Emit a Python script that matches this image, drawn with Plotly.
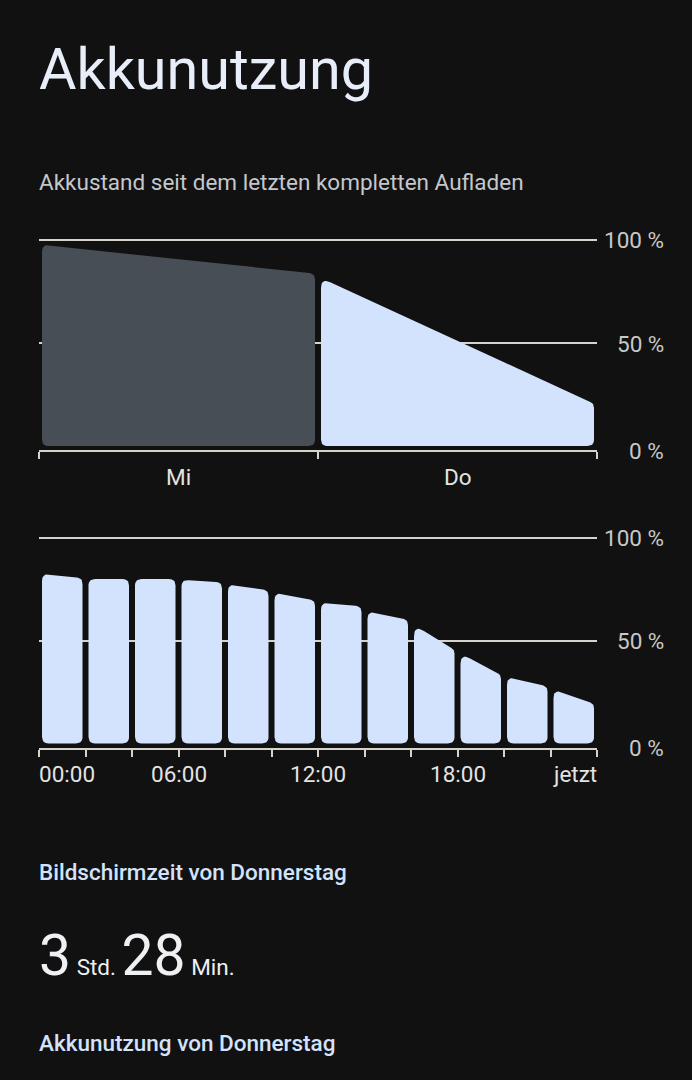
import numpy as np
import plotly.graph_objects as go

W, H = 692, 1080

# ---------------- data ----------------
day_labels = ["Mi", "Do"]
day_start = [97.6, 81.4]      # battery % at start of each day segment
day_end = [83.5, 20.5]        # battery % at end of each day segment
day_colors = ["#474e56", "#d3e3fd"]

hour_bins = [0, 2, 4, 6, 8, 10, 12, 14, 16, 18, 20, 22]
bar_start = [82.6, 80.0, 80.0, 79.7, 77.6, 73.5, 68.6, 64.4, 57.8, 43.9, 32.5, 26.4]
bar_end = [80.5, 80.0, 80.0, 78.4, 74.5, 69.6, 66.7, 60.2, 45.5, 33.3, 27.7, 19.3]

hour_label_pos = [0, 6, 12, 18, 24]
hour_labels = ["00:00", "06:00", "12:00", "18:00", "jetzt"]

pct_ticks = [0, 50, 100]
pct_labels = ["0 %", "50 %", "100 %"]

screen_hours = 3
screen_minutes = 28

# ---------------- styles ----------------
BG = "#111111"
GRID = "#d4d4cc"
BAR = "#d3e3fd"
FONT = "Roboto"
SMALL = 22.5

X0, X1 = 39, 597                 # plot left/right in px
TOP_AXIS, TOP_TOP, TOP_ZERO, TOP_SY = 450, 232, 446, 2.065
BOT_AXIS, BOT_TOP, BOT_ZERO, BOT_SY = 748, 530, 743.4, 2.054
GAP_PX = 3
RADIUS = 6.5


def px_x(p):
    return p / W


def px_y(p):
    return 1 - p / H


def rounded(xs, ys, sx, sy, r, n=9):
    P = np.column_stack([np.asarray(xs, float) * sx, np.asarray(ys, float) * sy])
    m = len(P)
    out = []
    for i in range(m):
        p, a, b = P[i], P[i - 1], P[(i + 1) % m]
        u = a - p
        lu = np.linalg.norm(u)
        u = u / lu
        v = b - p
        lv = np.linalg.norm(v)
        v = v / lv
        th = np.arccos(np.clip(u @ v, -1, 1))
        d = min(r / np.tan(th / 2), lu / 2, lv / 2)
        t1, t2 = p + u * d, p + v * d
        for t in np.linspace(0, 1, n):
            out.append((1 - t) ** 2 * t1 + 2 * (1 - t) * t * p + t ** 2 * t2)
    out.append(out[0])
    out = np.array(out)
    return out[:, 0] / sx, out[:, 1] / sy


fig = go.Figure()

# top chart: days
sx_top = (X1 - X0) / len(day_labels)
g = GAP_PX / sx_top
for i, (s, e) in enumerate(zip(day_start, day_end)):
    xa, xb = i + g, i + 1 - g
    xs, ys = rounded([xa, xb, xb, xa], [0, 0, e, s], sx_top, TOP_SY, RADIUS)
    fig.add_trace(go.Scatter(x=xs, y=ys, fill="toself", fillcolor=day_colors[i],
                             mode="lines", line=dict(width=0), hoverinfo="skip",
                             showlegend=False, xaxis="x", yaxis="y"))

# bottom chart: 2-hour bars
sx_bot = (X1 - X0) / 24
g = GAP_PX / sx_bot
for h, s, e in zip(hour_bins, bar_start, bar_end):
    xa, xb = h + g, h + 2 - g
    xs, ys = rounded([xa, xb, xb, xa], [0, 0, e, s], sx_bot, BOT_SY, RADIUS)
    fig.add_trace(go.Scatter(x=xs, y=ys, fill="toself", fillcolor=BAR,
                             mode="lines", line=dict(width=0), hoverinfo="skip",
                             showlegend=False, xaxis="x2", yaxis="y2"))


def yrange(axis_px, top_px, zero_px, sy):
    lo = (zero_px - axis_px) / sy
    hi = (zero_px - top_px) / sy
    return [lo, hi]


xcommon = dict(domain=[px_x(X0), px_x(X1)], showgrid=False, zeroline=False,
               showline=True, linecolor=GRID, linewidth=2, ticks="outside",
               ticklen=7, tickwidth=2, tickcolor=GRID, showticklabels=False,
               fixedrange=True)
ycommon = dict(showgrid=True, gridcolor=GRID, gridwidth=2, zeroline=False,
               showline=False, showticklabels=False, ticks="", tickvals=[50, 100],
               fixedrange=True)

fig.update_layout(
    width=W, height=H, margin=dict(l=0, r=0, t=0, b=0),
    paper_bgcolor=BG, plot_bgcolor=BG,
    font=dict(family=FONT, color="#e3e3e3"),
    xaxis=dict(xcommon, range=[0, len(day_labels)],
               tickvals=list(range(len(day_labels) + 1)), anchor="y"),
    yaxis=dict(ycommon, domain=[px_y(TOP_AXIS), px_y(TOP_TOP)],
               range=yrange(TOP_AXIS, TOP_TOP, TOP_ZERO, TOP_SY), anchor="x"),
    xaxis2=dict(xcommon, range=[0, 24], tickvals=hour_bins + [24], anchor="y2"),
    yaxis2=dict(ycommon, domain=[px_y(BOT_AXIS), px_y(BOT_TOP)],
                range=yrange(BOT_AXIS, BOT_TOP, BOT_ZERO, BOT_SY), anchor="x2"),
)

ann = []


def text(t, x, y, size, color, xanchor="left", weight=400):
    ann.append(dict(text=t, x=px_x(x), y=px_y(y), xref="paper", yref="paper",
                    xanchor=xanchor, yanchor="middle", showarrow=False,
                    font=dict(family=FONT, size=size, color=color, weight=weight)))


text("Akkunutzung", 37, 70, 57.5, "#e8eef9")
text("Akkustand seit dem letzten kompletten Aufladen", 37, 182, SMALL, "#c4c7cc")

# y labels (right-aligned)
top_label_y = {0: 451, 50: 344, 100: 240}
bot_label_y = {0: 748, 50: 641, 100: 538}
for v, lab in zip(pct_ticks, pct_labels):
    text(lab, 666, top_label_y[v], SMALL, "#c8c8c8", xanchor="right")
    text(lab, 666, bot_label_y[v], SMALL, "#c8c8c8", xanchor="right")

# top x labels
for i, lab in enumerate(day_labels):
    text(lab, X0 + (i + 0.5) * sx_top, 477, SMALL, "#e3e3e3", xanchor="center")

# bottom x labels
for p, lab in zip(hour_label_pos, hour_labels):
    xa = "left" if p == 0 else ("right" if p == 24 else "center")
    xp = X0 + p * sx_bot + (-2 if p == 0 else (2 if p == 24 else 0))
    text(lab, xp, 774, SMALL, "#e3e3e3", xanchor=xa)

text("Bildschirmzeit von Donnerstag", 37, 872, SMALL, "#d3e3fd", weight=500)
text(f"{screen_hours}<span style='font-size:{SMALL}px'> Std. </span>{screen_minutes}"
     f"<span style='font-size:{SMALL}px'> Min.</span>", 37, 955, 57, "#eef0f3")
text("Akkunutzung von Donnerstag", 37, 1043, SMALL, "#d3e3fd", weight=500)

fig.update_layout(annotations=ann)
fig.write_html(
    "out.html",
    config={"displayModeBar": False},
    post_script="document.body.style.margin='0';"
                "document.body.style.background='#111111';",
)
